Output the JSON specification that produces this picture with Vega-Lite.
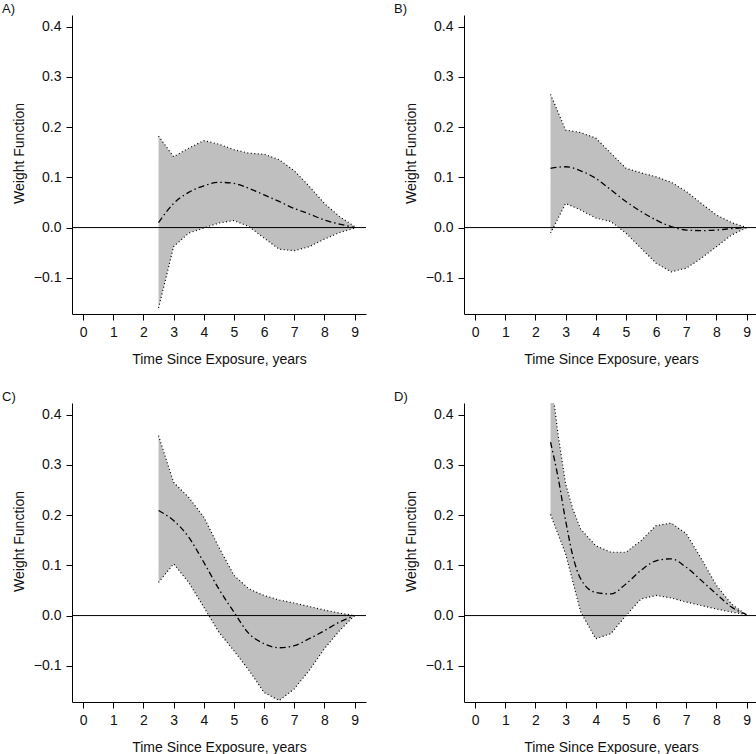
{
  "$schema": "https://vega.github.io/schema/vega-lite/v6.json",
  "padding": {"left": 2, "top": 3, "right": 0, "bottom": 0},
  "background": "white",
  "data": {"values": [
    {"panel": "A", "x": 2.5, "lo": -0.160, "mean": 0.010, "hi": 0.182},
    {"panel": "A", "x": 3.0, "lo": -0.038, "mean": 0.048, "hi": 0.141},
    {"panel": "A", "x": 3.5, "lo": -0.011, "mean": 0.070, "hi": 0.158},
    {"panel": "A", "x": 4.0, "lo": -0.001, "mean": 0.083, "hi": 0.173},
    {"panel": "A", "x": 4.5, "lo": 0.009, "mean": 0.090, "hi": 0.166},
    {"panel": "A", "x": 5.0, "lo": 0.014, "mean": 0.088, "hi": 0.155},
    {"panel": "A", "x": 5.5, "lo": 0.002, "mean": 0.078, "hi": 0.148},
    {"panel": "A", "x": 6.0, "lo": -0.021, "mean": 0.065, "hi": 0.146},
    {"panel": "A", "x": 6.5, "lo": -0.043, "mean": 0.052, "hi": 0.135},
    {"panel": "A", "x": 7.0, "lo": -0.046, "mean": 0.038, "hi": 0.113},
    {"panel": "A", "x": 7.5, "lo": -0.038, "mean": 0.027, "hi": 0.082},
    {"panel": "A", "x": 8.0, "lo": -0.023, "mean": 0.015, "hi": 0.048},
    {"panel": "A", "x": 8.5, "lo": -0.010, "mean": 0.007, "hi": 0.022},
    {"panel": "A", "x": 9.0, "lo": -0.001, "mean": 0.000, "hi": 0.002},
    {"panel": "B", "x": 2.5, "lo": -0.011, "mean": 0.118, "hi": 0.265},
    {"panel": "B", "x": 3.0, "lo": 0.048, "mean": 0.121, "hi": 0.194},
    {"panel": "B", "x": 3.5, "lo": 0.035, "mean": 0.113, "hi": 0.189},
    {"panel": "B", "x": 4.0, "lo": 0.019, "mean": 0.098, "hi": 0.178},
    {"panel": "B", "x": 4.5, "lo": 0.012, "mean": 0.075, "hi": 0.148},
    {"panel": "B", "x": 5.0, "lo": -0.011, "mean": 0.052, "hi": 0.118},
    {"panel": "B", "x": 5.5, "lo": -0.041, "mean": 0.032, "hi": 0.109},
    {"panel": "B", "x": 6.0, "lo": -0.071, "mean": 0.015, "hi": 0.101},
    {"panel": "B", "x": 6.5, "lo": -0.088, "mean": 0.002, "hi": 0.090},
    {"panel": "B", "x": 7.0, "lo": -0.081, "mean": -0.005, "hi": 0.072},
    {"panel": "B", "x": 7.5, "lo": -0.061, "mean": -0.006, "hi": 0.048},
    {"panel": "B", "x": 8.0, "lo": -0.038, "mean": -0.005, "hi": 0.025},
    {"panel": "B", "x": 8.5, "lo": -0.015, "mean": -0.002, "hi": 0.010},
    {"panel": "B", "x": 9.0, "lo": 0.000, "mean": 0.000, "hi": 0.000},
    {"panel": "C", "x": 2.5, "lo": 0.066, "mean": 0.209, "hi": 0.358},
    {"panel": "C", "x": 3.0, "lo": 0.103, "mean": 0.189, "hi": 0.265},
    {"panel": "C", "x": 3.5, "lo": 0.066, "mean": 0.156, "hi": 0.235},
    {"panel": "C", "x": 4.0, "lo": 0.017, "mean": 0.106, "hi": 0.196},
    {"panel": "C", "x": 4.5, "lo": -0.033, "mean": 0.053, "hi": 0.136},
    {"panel": "C", "x": 5.0, "lo": -0.070, "mean": 0.007, "hi": 0.080},
    {"panel": "C", "x": 5.5, "lo": -0.109, "mean": -0.036, "hi": 0.053},
    {"panel": "C", "x": 6.0, "lo": -0.153, "mean": -0.056, "hi": 0.040},
    {"panel": "C", "x": 6.5, "lo": -0.169, "mean": -0.064, "hi": 0.031},
    {"panel": "C", "x": 7.0, "lo": -0.146, "mean": -0.060, "hi": 0.025},
    {"panel": "C", "x": 7.5, "lo": -0.109, "mean": -0.046, "hi": 0.018},
    {"panel": "C", "x": 8.0, "lo": -0.066, "mean": -0.030, "hi": 0.011},
    {"panel": "C", "x": 8.5, "lo": -0.030, "mean": -0.013, "hi": 0.005},
    {"panel": "C", "x": 9.0, "lo": 0.000, "mean": 0.000, "hi": 0.000},
    {"panel": "D", "x": 2.5, "lo": 0.201, "mean": 0.345, "hi": 0.480},
    {"panel": "D", "x": 2.75, "lo": 0.162, "mean": 0.275, "hi": 0.360},
    {"panel": "D", "x": 3.0, "lo": 0.123, "mean": 0.189, "hi": 0.262},
    {"panel": "D", "x": 3.25, "lo": 0.065, "mean": 0.116, "hi": 0.210},
    {"panel": "D", "x": 3.5, "lo": 0.007, "mean": 0.073, "hi": 0.172},
    {"panel": "D", "x": 4.0, "lo": -0.046, "mean": 0.046, "hi": 0.139},
    {"panel": "D", "x": 4.5, "lo": -0.036, "mean": 0.043, "hi": 0.126},
    {"panel": "D", "x": 5.0, "lo": 0.000, "mean": 0.063, "hi": 0.126},
    {"panel": "D", "x": 5.5, "lo": 0.033, "mean": 0.090, "hi": 0.149},
    {"panel": "D", "x": 6.0, "lo": 0.040, "mean": 0.109, "hi": 0.179},
    {"panel": "D", "x": 6.5, "lo": 0.035, "mean": 0.113, "hi": 0.184},
    {"panel": "D", "x": 7.0, "lo": 0.027, "mean": 0.096, "hi": 0.163},
    {"panel": "D", "x": 7.5, "lo": 0.020, "mean": 0.070, "hi": 0.113},
    {"panel": "D", "x": 8.0, "lo": 0.013, "mean": 0.043, "hi": 0.060},
    {"panel": "D", "x": 8.5, "lo": 0.007, "mean": 0.017, "hi": 0.023},
    {"panel": "D", "x": 9.0, "lo": 0.002, "mean": 0.002, "hi": 0.001}
  ]},
  "columns": 2,
  "spacing": {"row": 25, "column": 27},
  "concat": [
    {
      "title": "A)",
      "width": 294, "height": 299,
      "transform": [{"filter": "datum.panel === 'A'"}],
      "layer": [
        {"mark": {"type": "area", "color": "#bfbfbf", "clip": true},
         "encoding": {
           "x": {"field": "x", "type": "quantitative", "scale": {"domain": [-0.37, 9.38], "nice": false, "zero": false}, "axis": {"title": "Time Since Exposure, years", "values": [0,1,2,3,4,5,6,7,8,9], "tickCount": 10}},
           "y": {"field": "lo", "type": "quantitative", "scale": {"domain": [-0.172, 0.423], "nice": false, "zero": false}, "axis": {"title": "Weight Function", "values": [-0.1, 0, 0.1, 0.2, 0.3, 0.4], "format": ".1f", "titleY": 138}},
           "y2": {"field": "hi"}}},
        {"mark": {"type": "line", "color": "black", "strokeWidth": 1.2, "strokeDash": [1, 2.5], "clip": true},
         "encoding": {"x": {"field": "x", "type": "quantitative", "axis": {"title": "Time Since Exposure, years", "values": [0,1,2,3,4,5,6,7,8,9], "tickCount": 10}}, "y": {"field": "hi", "type": "quantitative", "title": "Weight Function"}}},
        {"mark": {"type": "line", "color": "black", "strokeWidth": 1.2, "strokeDash": [1, 2.5], "clip": true},
         "encoding": {"x": {"field": "x", "type": "quantitative", "axis": {"title": "Time Since Exposure, years", "values": [0,1,2,3,4,5,6,7,8,9], "tickCount": 10}}, "y": {"field": "lo", "type": "quantitative", "title": "Weight Function"}}},
        {"mark": {"type": "line", "color": "black", "strokeWidth": 1.3, "strokeDash": [6, 3, 1.5, 3], "interpolate": "monotone", "clip": true},
         "encoding": {"x": {"field": "x", "type": "quantitative", "axis": {"title": "Time Since Exposure, years", "values": [0,1,2,3,4,5,6,7,8,9], "tickCount": 10}}, "y": {"field": "mean", "type": "quantitative", "title": "Weight Function"}}},
        {"data": {"values": [{}]}, "mark": {"type": "rule", "color": "black", "strokeWidth": 1},
         "encoding": {"y": {"datum": 0}}}
      ]
    },
    {
      "title": "B)",
      "width": 294, "height": 299,
      "transform": [{"filter": "datum.panel === 'B'"}],
      "layer": [
        {"mark": {"type": "area", "color": "#bfbfbf", "clip": true},
         "encoding": {
           "x": {"field": "x", "type": "quantitative", "scale": {"domain": [-0.37, 9.38], "nice": false, "zero": false}, "axis": {"title": "Time Since Exposure, years", "values": [0,1,2,3,4,5,6,7,8,9], "tickCount": 10}},
           "y": {"field": "lo", "type": "quantitative", "scale": {"domain": [-0.172, 0.423], "nice": false, "zero": false}, "axis": {"title": "Weight Function", "values": [-0.1, 0, 0.1, 0.2, 0.3, 0.4], "format": ".1f", "titleY": 138}},
           "y2": {"field": "hi"}}},
        {"mark": {"type": "line", "color": "black", "strokeWidth": 1.2, "strokeDash": [1, 2.5], "clip": true},
         "encoding": {"x": {"field": "x", "type": "quantitative", "axis": {"title": "Time Since Exposure, years", "values": [0,1,2,3,4,5,6,7,8,9], "tickCount": 10}}, "y": {"field": "hi", "type": "quantitative", "title": "Weight Function"}}},
        {"mark": {"type": "line", "color": "black", "strokeWidth": 1.2, "strokeDash": [1, 2.5], "clip": true},
         "encoding": {"x": {"field": "x", "type": "quantitative", "axis": {"title": "Time Since Exposure, years", "values": [0,1,2,3,4,5,6,7,8,9], "tickCount": 10}}, "y": {"field": "lo", "type": "quantitative", "title": "Weight Function"}}},
        {"mark": {"type": "line", "color": "black", "strokeWidth": 1.3, "strokeDash": [6, 3, 1.5, 3], "interpolate": "monotone", "clip": true},
         "encoding": {"x": {"field": "x", "type": "quantitative", "axis": {"title": "Time Since Exposure, years", "values": [0,1,2,3,4,5,6,7,8,9], "tickCount": 10}}, "y": {"field": "mean", "type": "quantitative", "title": "Weight Function"}}},
        {"data": {"values": [{}]}, "mark": {"type": "rule", "color": "black", "strokeWidth": 1},
         "encoding": {"y": {"datum": 0}}}
      ]
    },
    {
      "title": "C)",
      "width": 294, "height": 299,
      "transform": [{"filter": "datum.panel === 'C'"}],
      "layer": [
        {"mark": {"type": "area", "color": "#bfbfbf", "clip": true},
         "encoding": {
           "x": {"field": "x", "type": "quantitative", "scale": {"domain": [-0.37, 9.38], "nice": false, "zero": false}, "axis": {"title": "Time Since Exposure, years", "values": [0,1,2,3,4,5,6,7,8,9], "tickCount": 10}},
           "y": {"field": "lo", "type": "quantitative", "scale": {"domain": [-0.172, 0.423], "nice": false, "zero": false}, "axis": {"title": "Weight Function", "values": [-0.1, 0, 0.1, 0.2, 0.3, 0.4], "format": ".1f", "titleY": 138}},
           "y2": {"field": "hi"}}},
        {"mark": {"type": "line", "color": "black", "strokeWidth": 1.2, "strokeDash": [1, 2.5], "clip": true},
         "encoding": {"x": {"field": "x", "type": "quantitative", "axis": {"title": "Time Since Exposure, years", "values": [0,1,2,3,4,5,6,7,8,9], "tickCount": 10}}, "y": {"field": "hi", "type": "quantitative", "title": "Weight Function"}}},
        {"mark": {"type": "line", "color": "black", "strokeWidth": 1.2, "strokeDash": [1, 2.5], "clip": true},
         "encoding": {"x": {"field": "x", "type": "quantitative", "axis": {"title": "Time Since Exposure, years", "values": [0,1,2,3,4,5,6,7,8,9], "tickCount": 10}}, "y": {"field": "lo", "type": "quantitative", "title": "Weight Function"}}},
        {"mark": {"type": "line", "color": "black", "strokeWidth": 1.3, "strokeDash": [6, 3, 1.5, 3], "interpolate": "monotone", "clip": true},
         "encoding": {"x": {"field": "x", "type": "quantitative", "axis": {"title": "Time Since Exposure, years", "values": [0,1,2,3,4,5,6,7,8,9], "tickCount": 10}}, "y": {"field": "mean", "type": "quantitative", "title": "Weight Function"}}},
        {"data": {"values": [{}]}, "mark": {"type": "rule", "color": "black", "strokeWidth": 1},
         "encoding": {"y": {"datum": 0}}}
      ]
    },
    {
      "title": "D)",
      "width": 294, "height": 299,
      "transform": [{"filter": "datum.panel === 'D'"}],
      "layer": [
        {"mark": {"type": "area", "color": "#bfbfbf", "clip": true},
         "encoding": {
           "x": {"field": "x", "type": "quantitative", "scale": {"domain": [-0.37, 9.38], "nice": false, "zero": false}, "axis": {"title": "Time Since Exposure, years", "values": [0,1,2,3,4,5,6,7,8,9], "tickCount": 10}},
           "y": {"field": "lo", "type": "quantitative", "scale": {"domain": [-0.172, 0.423], "nice": false, "zero": false}, "axis": {"title": "Weight Function", "values": [-0.1, 0, 0.1, 0.2, 0.3, 0.4], "format": ".1f", "titleY": 138}},
           "y2": {"field": "hi"}}},
        {"mark": {"type": "line", "color": "black", "strokeWidth": 1.2, "strokeDash": [1, 2.5], "clip": true},
         "encoding": {"x": {"field": "x", "type": "quantitative", "axis": {"title": "Time Since Exposure, years", "values": [0,1,2,3,4,5,6,7,8,9], "tickCount": 10}}, "y": {"field": "hi", "type": "quantitative", "title": "Weight Function"}}},
        {"mark": {"type": "line", "color": "black", "strokeWidth": 1.2, "strokeDash": [1, 2.5], "clip": true},
         "encoding": {"x": {"field": "x", "type": "quantitative", "axis": {"title": "Time Since Exposure, years", "values": [0,1,2,3,4,5,6,7,8,9], "tickCount": 10}}, "y": {"field": "lo", "type": "quantitative", "title": "Weight Function"}}},
        {"mark": {"type": "line", "color": "black", "strokeWidth": 1.3, "strokeDash": [6, 3, 1.5, 3], "interpolate": "monotone", "clip": true},
         "encoding": {"x": {"field": "x", "type": "quantitative", "axis": {"title": "Time Since Exposure, years", "values": [0,1,2,3,4,5,6,7,8,9], "tickCount": 10}}, "y": {"field": "mean", "type": "quantitative", "title": "Weight Function"}}},
        {"data": {"values": [{}]}, "mark": {"type": "rule", "color": "black", "strokeWidth": 1},
         "encoding": {"y": {"datum": 0}}}
      ]
    }
  ],
  "config": {
    "font": "Liberation Sans",
    "view": {"stroke": null},
    "axis": {"grid": false, "domainColor": "black", "tickColor": "black", "labelColor": "#111", "titleColor": "#111", "labelFontSize": 14, "titleFontSize": 14, "titleFontWeight": "normal", "tickSize": 6, "labelPadding": 5, "labelFlush": false, "labelOverlap": false, "domainWidth": 1, "tickWidth": 1},
    "axisX": {"titlePadding": 13},
    "axisY": {"titlePadding": 7},
    "title": {"fontSize": 13, "fontWeight": "normal", "anchor": "start", "frame": "group", "dx": -70, "offset": -1, "color": "#111"}
  }
}
